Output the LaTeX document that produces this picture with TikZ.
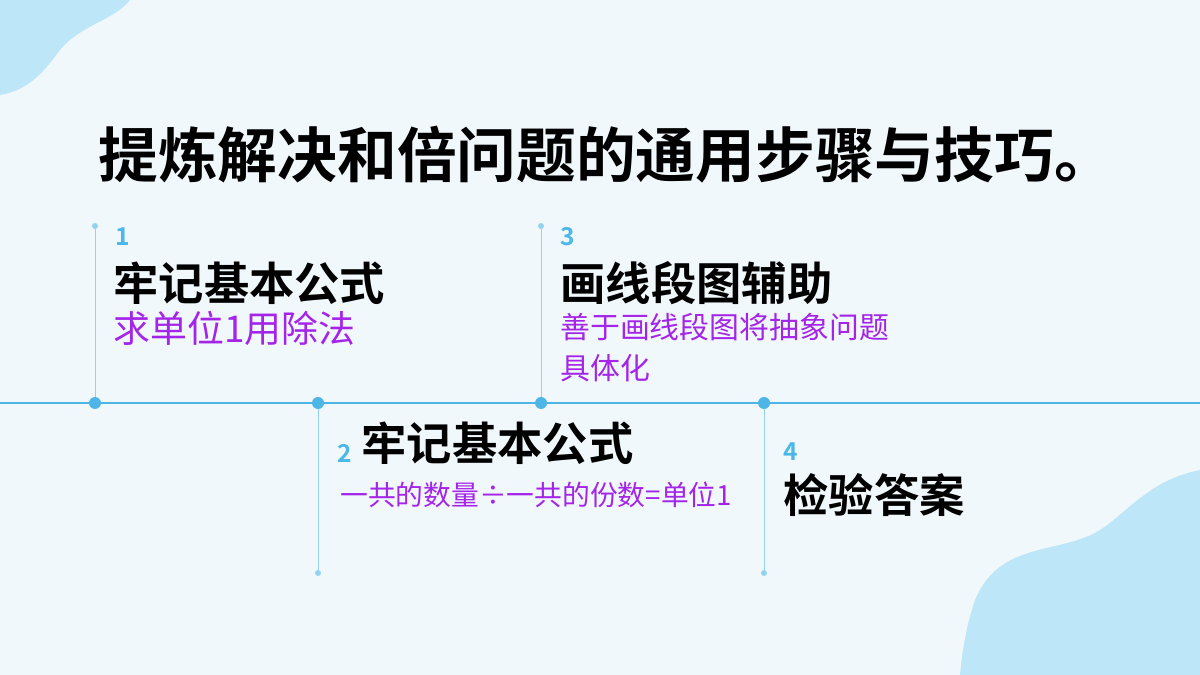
\documentclass[tikz,border=0pt]{standalone}
\usepackage{fontspec}
\newfontfamily\cjk{Noto Sans CJK SC}
\newfontfamily\cjkb{Noto Sans CJK SC Bold}
\definecolor{bgblue}{HTML}{F1F8FC}
\definecolor{blob}{HTML}{BDE6F8}
\definecolor{lineblue}{HTML}{4DB6E6}
\definecolor{numblue}{HTML}{4BB8E8}
\definecolor{txtpurple}{HTML}{A424E8}
\tikzset{
  num/.style={anchor=west,inner sep=0pt,text=numblue,font=\cjkb\fontsize{14}{14}\selectfont},
  head/.style={anchor=west,inner sep=0pt,font=\cjkb\fontsize{25.8}{25.8}\selectfont},
  sub/.style={anchor=west,inner sep=0pt,text=txtpurple,font=\cjk\fontsize{#1}{#1}\selectfont},
  bigdot/.style={circle,fill=lineblue,inner sep=0pt,minimum size=12*0.02cm},
  smalldot/.style={circle,fill=lineblue!60,inner sep=0pt,minimum size=6*0.02cm}
}
\begin{document}
\begin{tikzpicture}[x=0.02cm,y=-0.02cm]
  %background
  \fill[bgblue] (0,0) rectangle (1200,675);
  \useasboundingbox (0,0) rectangle (1200,675);
  %blobs
  \fill[blob] (0,0) -- (130,0) .. controls (115,20) and (80,25) .. (60,50)
    .. controls (45,70) and (30,90) .. (0,95) -- cycle;
  \fill[blob] (1200,470) .. controls (1150,480) and (1130,510) .. (1100,530)
    .. controls (1060,555) and (1000,540) .. (975,600)
    .. controls (965,630) and (962,655) .. (960,675) -- (1200,675) -- cycle;
  %title
  \node[anchor=west,inner sep=0pt,font=\cjkb\fontsize{34}{34}\selectfont] (title) at (98,155) {提炼解决和倍问题的通用步骤与技巧。};
  %timeline
  \draw[lineblue,thick] (0,403) -- (1200,403);
  \foreach \n/\x/\y in {a/95/226,b/318/573,c/541/226,d/764/573}{
    \node[bigdot] (\n) at (\x,403) {};
    \node[smalldot] (\n e) at (\x,\y) {};
    \draw[lineblue!60,thin] (\n) -- (\n e);
  }
  %step 1
  \node[num] (n1) at (115,237) {1};
  \node[head] (h1) at (113,283) {牢记基本公式};
  \node[sub=21] (s1) at (113,328) {求单位1用除法};
  %step 3
  \node[num] (n3) at (560,237) {3};
  \node[head] (h3) at (560,283) {画线段图辅助};
  \node[sub=17] (s3) at (560,327) {善于画线段图将抽象问题};
  \node[sub=17] (s3b) at (560,368) {具体化};
  %step 2
  \node[num] (n2) at (337,453) {2};
  \node[head] (h2) at (361,443) {牢记基本公式};
  \node[sub=15.8] (s2) at (340,495) {一共的数量÷一共的份数=单位1};
  %step 4
  \node[num] (n4) at (783,452) {4};
  \node[head] (h4) at (783,495) {检验答案};
\end{tikzpicture}
\end{document}
